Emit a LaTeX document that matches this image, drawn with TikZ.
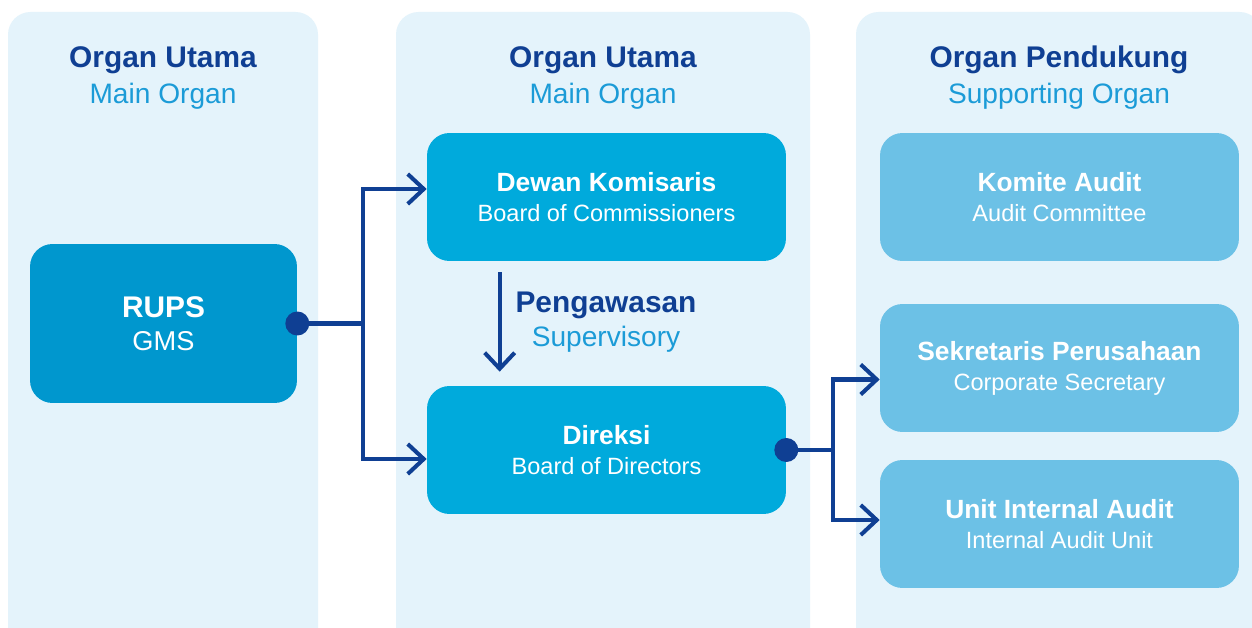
\documentclass[tikz,border=0pt]{standalone}
\usepackage{fontspec}
\setmainfont{Liberation Sans}
\usetikzlibrary{positioning,arrows.meta}

\definecolor{panelbg}{HTML}{E4F3FB}
\definecolor{navy}{HTML}{0F3F93}
\definecolor{skytext}{HTML}{1B9BD7}
\definecolor{rupsfill}{HTML}{0097CE}
\definecolor{mainfill}{HTML}{00AADC}
\definecolor{supfill}{HTML}{6CC1E6}

\newcommand{\orgtext}[2]{{\bfseries\fontsize{15}{17}\selectfont #1}\\#2}

\begin{document}
\begin{tikzpicture}[x=0.02cm, y=-0.02cm,
    panel/.style={fill=panelbg, rounded corners=0.45cm},
    orgbox/.style={rounded corners=0.45cm, minimum width=7.18cm, minimum height=2.56cm, inner sep=0pt,
      text=white, align=center, font=\fontsize{13.4}{17}\selectfont},
    hdtitle/.style={anchor=base, text=navy, font=\bfseries\fontsize{17}{20}\selectfont},
    hdsub/.style={anchor=base, text=skytext, font=\fontsize{16}{20}\selectfont},
    link/.style={draw=navy, line width=2.3pt, -{Straight Barb[length=0.32cm,width=0.6cm]}},
    joint/.style={draw=navy, line width=2.3pt}]
  \useasboundingbox (0,0) rectangle (1252,628);
  \clip (0,0) rectangle (1252,628);
  \fill[white] (0,0) rectangle (1252,628);

  % panels
  \fill[panel] (8,12) rectangle (318,660);
  \fill[panel] (396,12) rectangle (810,660);
  \fill[panel] (856,12) rectangle (1262,660);

  \node[hdtitle] (hd1) at (163,68) {Organ Utama};
  \node[hdsub] (hd1s) at (163,104) {Main Organ};
  \node[hdtitle] (hd2) at (603,68) {Organ Utama};
  \node[hdsub] (hd2s) at (603,104) {Main Organ};
  \node[hdtitle] (hd3) at (1059,68) {Organ Pendukung};
  \node[hdsub] (hd3s) at (1059,104) {Supporting Organ};

  % organ boxes
  \node[orgbox, fill=rupsfill, minimum width=5.34cm, minimum height=3.18cm, font=\fontsize{15.5}{19}\selectfont] (rups) at (163.5,323.5)
    {{\bfseries\fontsize{17}{19}\selectfont RUPS}\\GMS};
  \node[orgbox, fill=mainfill] (dk) at (606.5,197) {\orgtext{Dewan Komisaris}{Board of Commissioners}};
  \node[orgbox, fill=mainfill] (dir) at (606.5,450) {\orgtext{Direksi}{Board of Directors}};
  \node[orgbox, fill=supfill] (ka) at (1059.5,197) {\orgtext{Komite Audit}{Audit Committee}};
  \node[orgbox, fill=supfill] (sek) at (1059.5,368) {\orgtext{Sekretaris Perusahaan}{Corporate Secretary}};
  \node[orgbox, fill=supfill] (uia) at (1059.5,524) {\orgtext{Unit Internal Audit}{Internal Audit Unit}};

  \node[text=navy, font=\bfseries\fontsize{17}{19}\selectfont, anchor=base] (pw) at (606,313) {Pengawasan};
  \node[text=skytext, font=\fontsize{16}{19}\selectfont, anchor=base] (pws) at (606,347) {Supervisory};

  % connectors
  \coordinate (split1) at (363,323.5);
  \coordinate (split2) at (833,450);
  \draw[joint] (rups.east) -- (split1);
  \draw[link] (split1) |- ([yshift=0.16cm]dk.west);
  \draw[link] (split1) |- ([yshift=-0.18cm]dir.west);
  \draw[link] ([xshift=1.46cm, yshift=-0.22cm]dk.south west) -- ([xshift=1.46cm, yshift=0.28cm]dir.north west);
  \draw[joint] (dir.east) -- (split2);
  \draw[link] (split2) |- ([yshift=-0.23cm]sek.west);
  \draw[link] (split2) |- ([yshift=0.08cm]uia.west);
  \fill[navy] (rups.east) circle (0.24cm);
  \fill[navy] (dir.east) circle (0.24cm);
\end{tikzpicture}
\end{document}
